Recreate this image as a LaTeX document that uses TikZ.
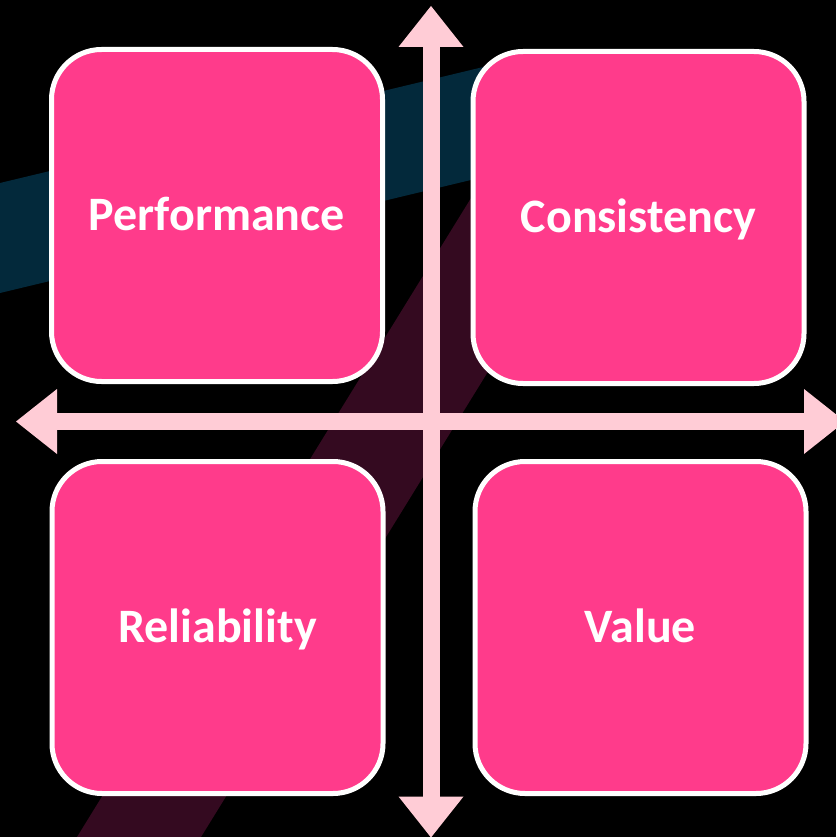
\documentclass[tikz,border=0pt]{standalone}
\usepackage{fontspec}
\setmainfont{Carlito}
\usetikzlibrary{arrows.meta}
\definecolor{bgteal}{HTML}{03293B}
\definecolor{bgmaroon}{HTML}{340A20}
\definecolor{boxpink}{HTML}{FF3B8B}
\definecolor{axispink}{HTML}{FFCCD6}
\tikzset{
  quadbox/.style={draw=white, line width=5pt, fill=boxpink, rounded corners=50pt,
    minimum width=331pt, minimum height=332pt, inner sep=0pt,
    text=white, font=\fontsize{48}{52}\selectfont\bfseries,
    text height=29pt, text depth=0pt, align=center},
  axisline/.style={draw=axispink, line width=17pt, line cap=butt,
    {Triangle[length=41pt,width=65pt,line width=0pt]}-{Triangle[length=41pt,width=65pt,line width=0pt]}}
}
\begin{document}
\begin{tikzpicture}[x=1pt,y=-1pt]
\useasboundingbox (0,0) rectangle (836,837);
\fill[black] (0,0) rectangle (836,837);
% background bands
\fill[bgteal] (-5,184.2) -- (540,53.4) -- (540,163.4) -- (-5,294.2) -- cycle;
\fill[bgmaroon] (69,850) -- (550,70) -- (674,70) -- (193,850) -- cycle;
% axes
\coordinate (vtop) at (431,6);
\coordinate (vbot) at (431,837.5);
\coordinate (hleft) at (16,421.5);
\coordinate (hright) at (845,421.5);
\draw[axisline] (vtop) -- (vbot);
\draw[axisline] (hleft) -- (hright);
% quadrants
\node[quadbox] (perf) at (217,215.5) {Performance};
\node[quadbox] (cons) at (638.5,217.5) {Consistency};
\node[quadbox] (reli) at (217.5,627.5) {Reliability};
\node[quadbox] (valu) at (640.5,627.5) {Value};
\end{tikzpicture}
\end{document}
